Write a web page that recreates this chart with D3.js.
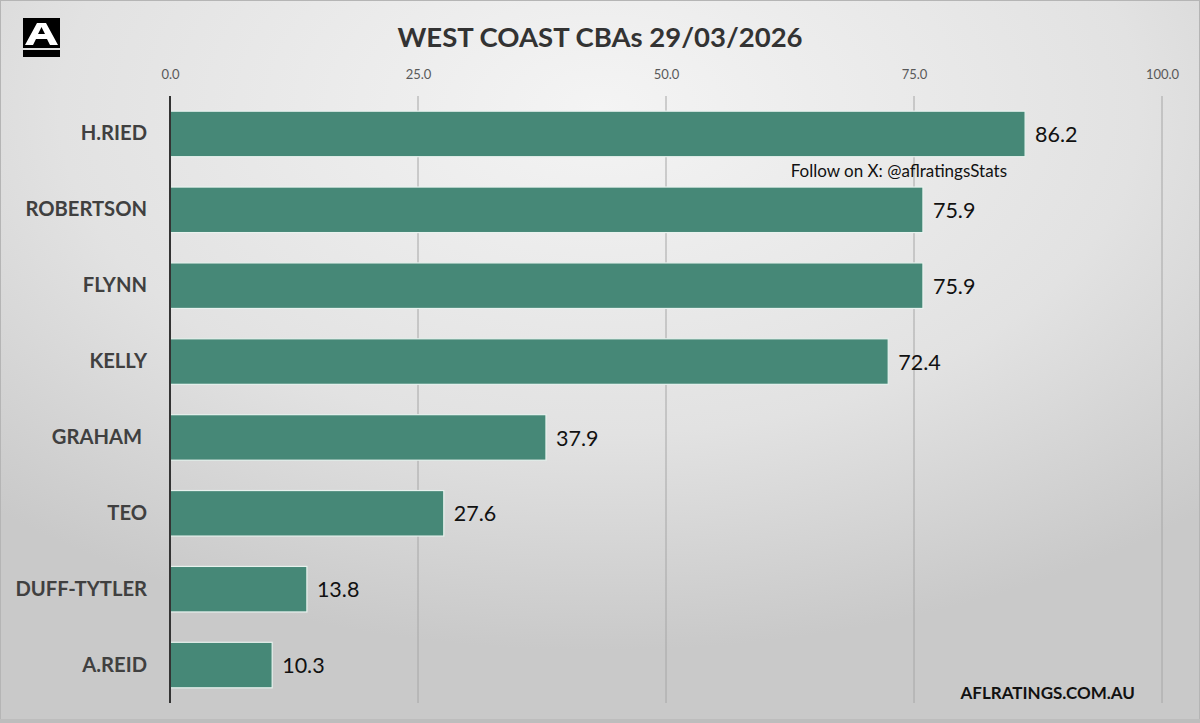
<!DOCTYPE html>
<html>
<head>
<meta charset="utf-8">
<script src="https://cdn.jsdelivr.net/npm/d3@7"></script>
<style>
  html, body { margin: 0; padding: 0; background: #d0d0d0; }
  svg { display: block; }
  text { font-family: Lato, "Open Sans", "Liberation Sans", sans-serif; }
</style>
</head>
<body>
<svg id="chart"></svg>
<script>
const players = ['H.RIED', 'ROBERTSON', 'FLYNN', 'KELLY', 'GRAHAM ', 'TEO', 'DUFF-TYTLER', 'A.REID'];
const cbaPct = [86.2, 75.9, 75.9, 72.4, 37.9, 27.6, 13.8, 10.3];
const tickValues = [0, 25, 50, 75, 100];
const title = 'WEST COAST CBAs 29/03/2026';

const W = 1200, H = 723;
const margin = {top: 96, right: 38, bottom: 20, left: 170};

const svg = d3.select('#chart')
  .attr('width', W)
  .attr('height', H);

// background gradient
const defs = svg.append('defs');
const grad = defs.append('radialGradient')
  .attr('id', 'bg')
  .attr('cx', '50%').attr('cy', '15%')
  .attr('r', '75%');
grad.append('stop').attr('offset', '0%').attr('stop-color', '#f4f4f4');
grad.append('stop').attr('offset', '60%').attr('stop-color', '#e2e2e2');
grad.append('stop').attr('offset', '100%').attr('stop-color', '#c9c9c9');

svg.append('rect')
  .attr('width', W).attr('height', H)
  .attr('fill', 'url(#bg)');
svg.append('rect')
  .attr('x', 0.5).attr('y', 0.5)
  .attr('width', W - 1).attr('height', H - 1)
  .attr('fill', 'none')
  .attr('stroke', '#b5b5b5')
  .attr('stroke-width', 1);
svg.append('rect')
  .attr('x', 0).attr('y', H - 4)
  .attr('width', W).attr('height', 4)
  .attr('fill', '#bdbdbd');

// logo
const logo = svg.append('g').attr('transform', 'translate(23,18)');
logo.append('rect').attr('width', 37).attr('height', 30).attr('fill', '#000');
logo.append('rect').attr('y', 32).attr('width', 37).attr('height', 7).attr('fill', '#000');
logo.append('path')
  .attr('d', 'M2,27 L14,5 L23,5 L35,27 L27,27 L24,21 L13,21 L10,27 Z M15,16 L22,16 L18.5,9 Z')
  .attr('fill', '#fff')
  .attr('fill-rule', 'evenodd');

// title
svg.append('text')
  .attr('x', W / 2).attr('y', 47)
  .attr('text-anchor', 'middle')
  .attr('font-size', 27.5)
  .attr('font-weight', 'bold')
  .attr('fill', '#333')
  .text(title);

const x = d3.scaleLinear()
  .domain([0, 100])
  .range([margin.left, W - margin.right]);

const y = d3.scaleBand()
  .domain(players)
  .range([margin.top, H - margin.bottom])
  .paddingInner(0.4)
  .paddingOuter(0.2);

// gridlines
svg.append('g')
  .selectAll('line')
  .data(tickValues.slice(1))
  .enter()
  .append('line')
  .attr('x1', d => x(d)).attr('x2', d => x(d))
  .attr('y1', margin.top).attr('y2', H - margin.bottom)
  .attr('stroke', '#a6a6a6')
  .attr('stroke-width', 1);

// top tick labels
const xAxis = svg.append('g')
  .attr('transform', `translate(0,${margin.top - 14})`)
  .call(d3.axisTop(x).tickValues(tickValues).tickFormat(d3.format('.1f')).tickSize(0));
xAxis.select('.domain').remove();
xAxis.selectAll('text')
  .attr('font-family', 'Lato, "Open Sans", sans-serif')
  .attr('font-size', 13)
  .attr('fill', '#595959');

// bars
svg.append('g')
  .selectAll('rect')
  .data(players)
  .enter()
  .append('rect')
  .attr('x', x(0))
  .attr('y', d => y(d))
  .attr('width', (d, i) => x(cbaPct[i]) - x(0))
  .attr('height', y.bandwidth())
  .attr('fill', '#468877')
  .attr('stroke', '#e8f2ee')
  .attr('stroke-width', 1.2);

// value labels
svg.append('g')
  .selectAll('text')
  .data(players)
  .enter()
  .append('text')
  .attr('x', (d, i) => x(cbaPct[i]) + 10)
  .attr('y', d => y(d) + y.bandwidth() / 2)
  .attr('dy', '0.38em')
  .attr('font-size', 21.5)
  .attr('fill', '#111')
  .text((d, i) => cbaPct[i].toFixed(1));

// y axis
const yAxis = svg.append('g')
  .attr('transform', `translate(${margin.left},0)`)
  .call(d3.axisLeft(y).tickSize(0).tickPadding(23));
yAxis.select('.domain')
  .attr('d', `M0,${margin.top}V${H - margin.bottom}`)
  .attr('stroke', '#333')
  .attr('stroke-width', 2);
yAxis.selectAll('text')
  .attr('font-family', 'Lato, "Open Sans", sans-serif')
  .attr('font-size', 20.2)
  .attr('font-weight', 'bold')
  .attr('fill', '#404040')
  .style('white-space', 'pre');

// watermark texts
svg.append('text')
  .attr('x', 1007).attr('y', 177)
  .attr('text-anchor', 'end')
  .attr('font-size', 17)
  .attr('fill', '#111')
  .text('Follow on X: @aflratingsStats');

svg.append('text')
  .attr('x', 1135).attr('y', 699)
  .attr('text-anchor', 'end')
  .attr('font-size', 17)
  .attr('font-weight', 'bold')
  .attr('fill', '#111')
  .text('AFLRATINGS.COM.AU');
</script>
</body>
</html>
